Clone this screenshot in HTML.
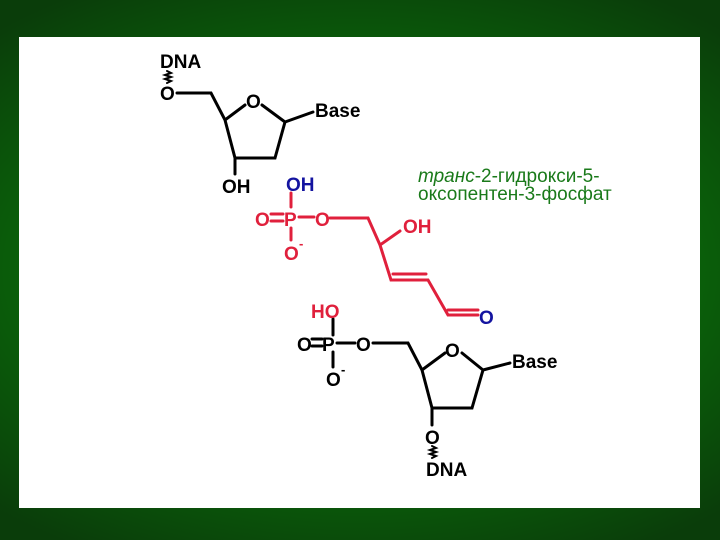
<!DOCTYPE html>
<html><head><meta charset="utf-8"><style>
html,body{margin:0;padding:0;}
body{width:720px;height:540px;overflow:hidden;background:radial-gradient(ellipse 75% 60% at 50% 50%,#0b8a0b 0%,#0a6a0a 50%,#0a3d0a 100%);position:relative;}
svg{position:absolute;left:0;top:0;}
text{font-family:"Liberation Sans",sans-serif;font-weight:bold;font-size:19px;}
</style></head><body>
<svg width="720" height="540" viewBox="0 0 720 540">
<rect x="19" y="37" width="681" height="471" fill="#fff"/>
<g stroke="#000" stroke-width="3" fill="none" stroke-linecap="round">
<path d="M177 93 L211 93 L225 120 L245 105 M262 105 L285 122 L275 158 L235 158 L225 120 M285 122 L313 112 M235 158 L235 174"/>
<path d="M167 71 l4 2 l-6 2 l6 2 l-6 2 l6 2 l-4 2" stroke-width="2"/>
<path d="M333 319 L333 335 M322 339 l-10 0 M322 346 l-10 0 M337 343 L355 343 M373 343 L408 343 L422 370 L445 353 M462 353 L483 370 L472 408 L432 408 L422 370 M483 370 L510 363 M432 408 L432 425 M333 352 L333 367"/>
<path d="M432 446 l4 2 l-6 2 l6 2 l-6 2 l6 2 l-4 2" stroke-width="2"/>
</g>
<g stroke="#e0203c" stroke-width="3" fill="none" stroke-linecap="round">
<path d="M291 193 L291 207 M283 214 l-12 0 M283 221 l-12 0 M299 217 L314 217 M330 218 L368 218 L380 245 L400 231 M380 245 L391 280 L428 280 L448 315 L478 315 M393 274 L426 274 M448 310 L478 310 M291 228 L291 240"/>
</g>
<text x="160" y="68">DNA</text>
<text x="160" y="100">O</text>
<text x="246" y="108">O</text>
<text x="315" y="117">Base</text>
<text x="222" y="193">OH</text>
<text x="286" y="191" fill="#1414a0">OH</text>
<text x="255" y="226" fill="#e0203c">O</text>
<text x="284" y="226" fill="#e0203c">P</text>
<text x="315" y="226" fill="#e0203c">O</text>
<text x="284" y="260" fill="#e0203c">O</text>
<text x="299" y="248" fill="#e0203c" style="font-size:13px">-</text>
<text x="403" y="233" fill="#e0203c">OH</text>
<text x="479" y="324" fill="#1414a0">O</text>
<text x="311" y="318" fill="#e0203c">HO</text>
<text x="297" y="351">O</text>
<text x="322" y="351">P</text>
<text x="356" y="351">O</text>
<text x="326" y="386">O</text>
<text x="341" y="374" style="font-size:13px">-</text>
<text x="445" y="357">O</text>
<text x="512" y="368">Base</text>
<text x="425" y="444">O</text>
<text x="426" y="476">DNA</text>
<text x="418" y="182" fill="#1a7a1a" style="font-size:19px;font-weight:normal"><tspan font-style="italic">транс</tspan>-2-гидрокси-5-</text>
<text x="418" y="200" fill="#1a7a1a" style="font-size:19px;font-weight:normal">оксопентен-3-фосфат</text>
</svg>
</body></html>
